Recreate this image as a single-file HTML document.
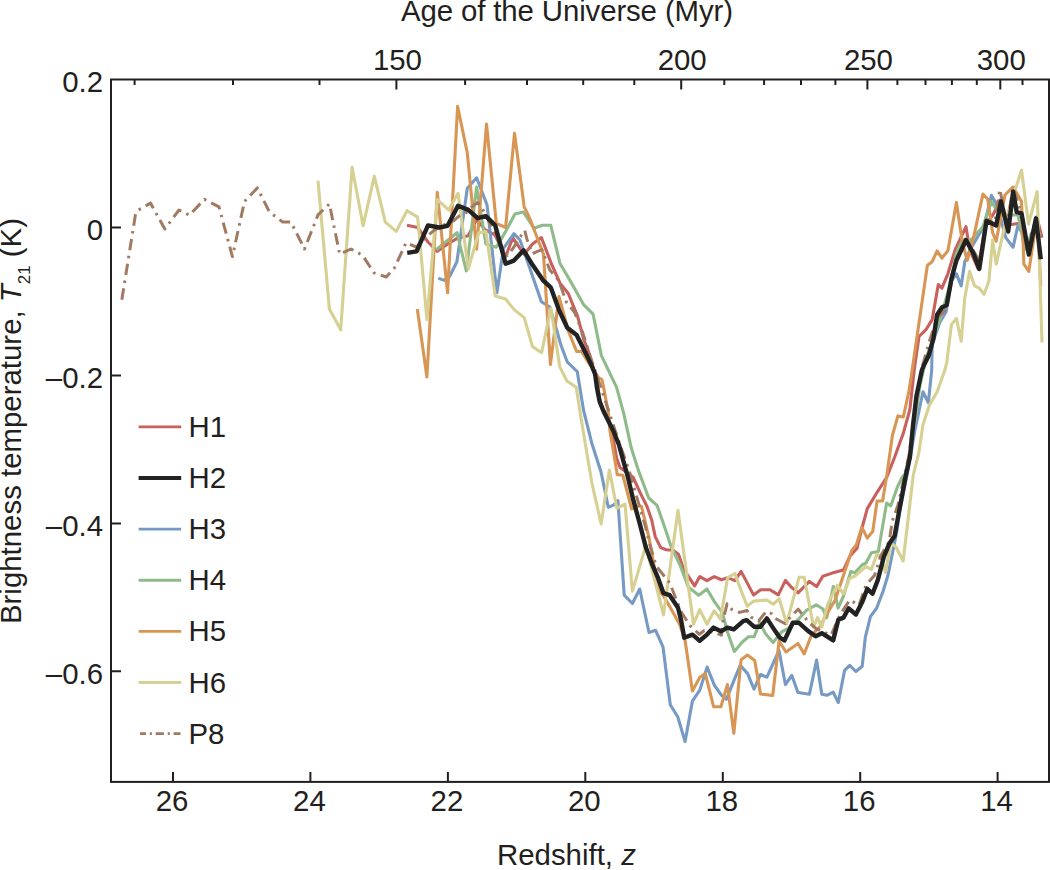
<!DOCTYPE html>
<html><head><meta charset="utf-8"><style>
html,body{margin:0;padding:0;background:#fff;width:1050px;height:870px;overflow:hidden}
svg{display:block}
text{font-family:"Liberation Sans",sans-serif;font-size:29.4px;fill:#231f20}
</style></head><body>
<svg width="1050" height="870" viewBox="0 0 1050 870">
<rect width="1050" height="870" fill="#fff"/>
<clipPath id="c"><rect x="111.0" y="79.5" width="938.0" height="702.4"/></clipPath>
<g clip-path="url(#c)" fill="none" stroke-linejoin="round" stroke-linecap="butt">
<polyline points="407.0,225.2 417.6,227.5 428.0,242.0 437.3,251.3 447.6,244.0 458.0,237.9 468.3,235.8 476.6,219.2 484.9,229.6 495.0,235.0 505.6,256.5 512.8,237.9 524.2,254.4 532.5,244.0 541.4,237.6 551.7,264.5 560.0,283.2 568.3,293.5 577.6,316.3 583.9,340.0 587.9,349.7 593.0,367.0 597.0,381.0 600.0,401.0 604.0,411.0 611.0,426.0 616.6,458.0 620.0,467.6 633.1,477.2 640.0,492.4 646.9,506.2 651.7,520.0 655.2,536.6 660.7,547.6 666.2,549.7 673.1,550.3 678.6,554.5 683.2,568.3 694.6,585.9 699.7,576.6 707.0,580.7 714.2,576.6 721.5,579.7 727.7,577.6 734.9,580.7 741.1,571.4 753.5,594.9 760.7,589.7 770.0,589.7 778.3,594.9 785.5,580.4 790.7,586.6 798.0,592.8 809.4,581.4 816.6,586.6 822.8,576.2 832.1,573.1 843.5,570.0 849.7,556.6 857.0,548.3 862.0,528.0 867.3,508.6 877.1,492.3 886.9,477.0 894.6,457.3 903.3,433.3 909.9,409.3 914.2,370.0 919.0,336.5 926.2,329.3 932.2,319.6 938.3,284.6 941.9,288.2 947.9,273.8 955.2,249.6 966.0,226.7 969.6,249.6 978.1,268.9 985.3,225.5 993.8,213.4 1000.0,200.0 1008.0,225.0 1020.3,223.1 1027.5,247.2 1037.2,218.3 1042.0,237.6" stroke="#c8605d" stroke-width="3.1"/>
<polyline points="438.3,278.3 444.5,280.4 449.7,276.2 456.9,261.7 460.0,240.0 467.3,188.2 476.6,177.8 487.0,204.7 491.0,240.0 496.9,292.8 503.5,248.3 513.9,233.7 520.0,240.0 530.0,268.7 541.4,301.8 549.7,307.0 556.9,330.8 561.0,345.3 567.3,362.0 577.3,371.7 583.5,410.0 591.8,443.2 601.1,472.2 608.3,507.3 613.8,504.8 617.9,500.7 624.2,595.2 632.4,603.5 639.7,589.0 649.0,632.5 655.6,630.3 663.0,646.9 670.3,704.8 677.7,716.8 685.1,741.6 692.4,701.1 699.8,690.1 707.1,667.1 714.5,685.5 721.8,695.6 726.4,699.3 733.8,680.9 740.2,665.3 747.6,673.6 754.0,689.2 760.5,674.5 766.9,677.2 779.0,650.5 785.4,684.5 791.8,675.5 798.0,692.5 809.4,694.2 816.6,660.1 821.8,694.2 827.0,695.3 833.2,692.2 838.3,702.5 844.6,670.4 849.7,665.3 855.9,671.5 862.2,666.3 865.3,637.3 870.4,616.6 876.6,608.3 882.9,591.8 888.0,575.2 896.8,531.6 900.0,509.7 908.0,470.0 915.0,430.0 923.0,391.8 928.4,402.8 931.7,370.0 932.2,343.7 940.0,322.0 946.0,312.0 951.5,281.0 956.4,273.8 961.2,285.8 964.8,261.7 970.0,250.0 977.0,238.0 984.0,226.0 991.4,195.3 997.0,205.0 1005.8,237.6 1013.1,247.2 1017.9,225.5 1027.0,242.0 1035.0,232.0 1040.8,236.4" stroke="#769ac3" stroke-width="3.1"/>
<polyline points="436.2,249.7 457.0,232.7 466.3,271.0 476.6,187.1 485.9,244.0 496.3,247.2 505.6,231.6 514.9,214.0 523.2,212.0 534.1,228.3 542.4,225.2 550.7,225.2 560.0,263.5 570.4,281.1 583.8,304.9 593.1,314.2 601.4,355.6 616.6,387.3 623.9,414.2 631.1,447.3 638.3,470.1 648.7,498.0 657.0,505.3 665.3,529.1 670.7,545.5 680.0,565.0 688.3,587.0 698.7,595.2 707.0,589.0 714.2,601.4 722.5,612.8 727.7,632.5 734.3,651.5 742.1,642.3 748.5,636.8 754.0,636.8 759.7,622.8 765.9,634.2 773.1,642.5 781.4,632.1 788.7,628.0 799.0,618.7 806.3,610.4 816.2,604.8 822.9,609.0 826.7,617.6 833.3,586.2 838.1,608.1 843.5,596.0 850.8,571.5 854.8,572.8 862.0,565.0 866.0,563.0 871.4,552.8 878.3,551.4 886.6,503.1 890.7,505.9 897.6,486.6 901.7,478.3 905.0,474.0 910.0,455.0 915.0,420.0 920.0,385.0 926.2,358.2 941.9,313.6 950.3,283.4 956.4,253.3 962.4,240.0 969.6,241.2 982.9,226.7 991.4,201.4 1000.0,215.0 1010.0,215.0 1018.0,215.0 1025.1,249.6 1035.0,225.0 1040.0,235.0" stroke="#8fbb8a" stroke-width="3.1"/>
<polyline points="417.3,309.0 426.9,377.0 437.3,192.3 447.6,292.8 457.6,106.4 467.3,153.0 476.6,249.2 486.5,124.0 496.3,223.4 505.6,227.5 514.5,133.3 524.2,206.8 530.0,219.0 543.5,254.2 550.4,364.5 559.0,296.6 568.3,330.8 576.6,351.5 581.4,351.3 590.0,365.0 598.8,377.9 602.0,379.7 604.3,390.7 606.6,403.6 608.4,412.8 609.8,429.4 611.7,441.3 613.8,453.8 617.2,474.5 622.8,475.2 631.7,509.0 637.2,506.2 641.4,506.2 645.5,522.8 649.0,537.9 653.0,560.0 658.3,589.7 663.9,596.6 668.0,603.5 679.5,623.9 685.1,640.5 692.4,691.0 699.8,677.2 705.3,673.6 713.6,706.7 720.9,706.7 727.4,684.6 733.8,733.3 741.1,659.8 747.4,655.0 754.7,660.5 760.5,694.0 772.7,695.5 779.1,641.0 786.0,652.0 798.0,643.5 804.2,653.9 811.4,635.2 819.7,627.0 828.0,612.0 835.2,600.0 841.4,581.4 845.6,569.0 851.8,550.4 856.4,544.7 861.8,527.2 867.3,538.1 872.7,531.6 877.1,501.0 882.6,501.0 886.9,474.8 892.4,435.5 897.9,415.9 903.3,417.0 908.8,391.8 911.0,378.0 927.4,265.3 932.2,261.7 937.1,250.8 941.9,258.1 947.9,250.8 956.4,202.6 962.4,242.4 967.2,260.5 973.3,238.8 982.9,194.1 987.7,199.0 992.6,232.7 996.2,241.2 1005.0,195.0 1013.1,186.9 1021.5,201.4 1023.9,264.1 1028.8,271.4 1037.2,215.8 1040.8,285.8" stroke="#d89655" stroke-width="3.1"/>
<polyline points="318.0,180.7 329.4,309.0 340.7,329.8 352.1,167.2 363.1,225.8 374.3,176.1 385.3,222.1 396.2,231.4 407.0,210.7 417.6,217.1 420.7,250.4 426.9,319.7 437.3,199.6 448.6,209.9 458.0,193.3 468.3,268.9 478.7,232.7 485.9,231.6 495.2,295.9 505.6,299.0 513.9,309.4 524.2,317.6 532.5,346.6 541.6,352.7 550.9,308.2 559.7,366.6 566.9,381.0 576.2,387.3 581.4,420.4 591.8,482.5 601.1,523.9 609.4,470.1 616.8,508.3 625.0,504.2 632.4,591.1 645.9,545.5 663.5,614.9 678.0,510.4 693.5,624.2 699.7,609.7 707.0,624.2 714.2,610.8 720.4,619.0 727.7,577.6 734.9,573.5 740.0,587.6 747.2,606.3 753.5,601.1 766.9,600.0 773.1,604.2 779.3,599.0 786.6,623.8 799.0,577.3 804.2,577.3 813.5,627.0 817.6,617.6 821.8,627.0 828.0,603.1 837.3,585.5 843.5,593.8 849.7,578.3 855.0,576.0 865.9,566.6 871.4,569.3 876.9,554.1 881.0,558.3 885.5,572.5 890.7,543.1 896.0,547.0 903.1,561.0 907.7,522.8 913.3,474.8 918.8,453.0 923.0,424.6 929.5,404.9 937.2,391.8 944.8,370.0 946.7,363.0 951.5,324.4 956.4,318.4 961.2,341.3 964.8,297.9 969.6,271.4 974.5,285.8 979.3,288.2 984.1,294.3 988.9,281.0 992.6,240.0 996.2,264.1 1007.0,215.8 1021.5,170.0 1028.5,224.0 1037.2,191.7 1042.0,342.5" stroke="#d6d092" stroke-width="3.1"/>
<polyline points="121.7,300.5 135.5,214.3 138.4,210.0 150.5,203.1 164.8,229.0 179.0,210.0 189.3,215.2 204.5,199.3 219.0,206.9 232.4,256.6 244.5,201.4 257.4,187.9 269.3,211.8 282.8,222.1 291.0,222.1 304.5,249.0 318.0,214.9 329.4,203.9 339.7,254.2 351.0,249.0 362.5,255.2 373.9,272.8 386.3,277.0 394.6,267.7 406.0,242.8 416.3,247.0 424.8,238.3 433.1,231.1 441.4,225.9 453.8,220.7 459.0,216.1 465.2,213.5 472.5,206.2 477.7,202.5 484.7,212.5 492.0,228.0 500.0,245.0 507.5,255.3 513.0,248.4 519.9,237.3 524.7,230.4 526.8,238.7 532.3,253.9 537.9,251.2 542.0,249.8 549.7,269.7 559.0,281.1 566.2,301.8 574.5,312.2 582.8,332.9 590.0,355.6 600.0,385.0 610.0,415.0 620.0,445.0 629.0,470.0 637.3,499.0 645.0,525.0 650.0,545.0 656.3,566.3 669.7,582.8 681.1,611.8 690.0,625.7 699.5,634.3 704.3,630.5 714.8,632.4 721.4,635.2 722.9,621.0 727.1,603.8 731.9,609.5 739.5,612.4 747.1,610.5 751.0,617.1 758.6,621.0 766.2,611.4 771.0,613.3 774.8,618.1 785.2,623.8 790.8,616.6 798.2,609.2 808.3,621.8 816.6,629.0 831.1,635.2 840.0,615.0 849.7,600.0 859.0,605.2 866.3,584.5 874.6,575.2 880.8,555.5 889.1,542.1 892.4,520.7 898.0,505.0 904.0,478.0 909.0,455.0 913.0,425.0 917.0,395.0 922.0,368.0 928.6,343.7 937.0,318.0 945.5,310.0 951.0,282.0 957.0,258.0 966.0,238.0 973.0,250.0 980.0,262.0 986.0,222.0 995.0,222.0 999.8,189.3 1007.0,225.0 1013.1,186.9 1020.0,210.0 1028.0,245.0 1037.2,214.6" stroke="#a27a62" stroke-width="3.0" stroke-dasharray="11.5,5.5,2.5,5.5" stroke-dashoffset="24.2"/>
<polyline points="407.2,252.8 416.6,251.3 428.0,225.4 439.3,227.5 447.6,225.8 458.0,205.8 468.3,209.9 477.6,218.2 485.9,216.1 495.2,225.4 505.6,263.7 513.9,260.6 523.6,250.3 532.5,264.8 542.9,280.1 550.7,287.3 559.0,310.1 567.3,327.7 576.6,334.9 584.9,351.5 591.4,365.0 595.1,374.2 597.0,388.0 599.7,401.8 603.4,411.0 608.9,422.0 613.5,431.2 619.0,445.0 622.5,458.0 627.6,475.9 633.1,499.3 639.7,523.5 645.9,547.6 652.1,564.2 658.3,578.7 663.5,593.2 669.7,595.2 678.0,607.7 681.1,620.1 684.2,637.7 692.5,634.6 699.7,640.8 707.0,634.6 713.6,627.6 720.9,631.3 727.4,627.6 733.8,629.4 743.2,621.1 746.7,620.2 754.0,626.7 760.5,626.7 766.9,618.4 775.2,631.1 779.8,637.7 784.5,640.4 792.8,622.8 799.0,622.8 808.3,631.1 815.6,636.3 821.8,633.2 833.2,640.4 838.3,619.7 843.5,617.6 848.7,608.3 855.9,614.5 862.2,602.1 867.3,588.7 872.5,593.8 877.7,580.4 883.9,556.6 889.1,544.1 894.6,535.9 899.0,511.9 905.5,477.0 909.9,457.3 913.1,424.6 916.4,396.2 921.9,370.0 923.8,365.5 928.6,355.8 933.4,338.9 937.1,314.8 941.9,307.5 946.7,305.1 951.5,278.6 956.4,260.5 966.0,240.0 973.3,253.3 979.3,268.9 986.5,220.7 996.2,225.5 1001.0,201.4 1008.2,231.5 1013.1,191.7 1016.7,212.2 1021.5,213.4 1028.8,254.5 1036.0,218.3 1040.8,259.3" stroke="#222222" stroke-width="4.4"/>
</g>
<rect x="111.0" y="79.5" width="938.0" height="702.4" fill="none" stroke="#231f20" stroke-width="2"/>
<path d="M173.0,781.9V771.9 M310.4,781.9V771.9 M447.9,781.9V771.9 M585.3,781.9V771.9 M722.8,781.9V771.9 M860.2,781.9V771.9 M997.6,781.9V771.9 M111.0,227.5H121.0 M111.0,375.4H121.0 M111.0,523.4H121.0 M111.0,671.3H121.0 M134.6,79.5V85.0 M233.0,79.5V85.0 M319.5,79.5V85.0 M396.4,79.5V89.5 M465.1,79.5V85.0 M527.0,79.5V85.0 M583.2,79.5V85.0 M634.3,79.5V85.0 M681.2,79.5V89.5 M724.3,79.5V85.0 M764.1,79.5V85.0 M801.0,79.5V85.0 M835.4,79.5V85.0 M867.4,79.5V89.5 M897.4,79.5V85.0 M925.5,79.5V85.0 M951.9,79.5V85.0 M976.8,79.5V85.0 M1000.3,79.5V89.5 M1022.5,79.5V85.0" stroke="#231f20" stroke-width="2" fill="none"/>
<line x1="138.6" y1="426.9" x2="181.2" y2="426.9" stroke="#c8605d" stroke-width="2.9"/>
<line x1="138.6" y1="478.0" x2="181.2" y2="478.0" stroke="#222222" stroke-width="4.0"/>
<line x1="138.6" y1="529.1" x2="181.2" y2="529.1" stroke="#769ac3" stroke-width="2.9"/>
<line x1="138.6" y1="580.3" x2="181.2" y2="580.3" stroke="#8fbb8a" stroke-width="2.9"/>
<line x1="138.6" y1="631.4" x2="181.2" y2="631.4" stroke="#d89655" stroke-width="2.9"/>
<line x1="138.6" y1="682.5" x2="181.2" y2="682.5" stroke="#d6d092" stroke-width="2.9"/>
<line x1="140" y1="733.6" x2="180.5" y2="733.6" stroke="#a27a62" stroke-width="2.8" stroke-dasharray="8.2,3.8,2.1,3.8" stroke-dashoffset="2.2"/>
<text x="172.0" y="810.5" text-anchor="middle">26</text>
<text x="309.4" y="810.5" text-anchor="middle">24</text>
<text x="446.9" y="810.5" text-anchor="middle">22</text>
<text x="584.3" y="810.5" text-anchor="middle">20</text>
<text x="721.8" y="810.5" text-anchor="middle">18</text>
<text x="859.2" y="810.5" text-anchor="middle">16</text>
<text x="996.6" y="810.5" text-anchor="middle">14</text>
<text x="103.0" y="92.3" text-anchor="end">0.2</text>
<text x="103.0" y="240.2" text-anchor="end">0</text>
<text x="103.0" y="388.1" text-anchor="end">–0.2</text>
<text x="103.0" y="536.1" text-anchor="end">–0.4</text>
<text x="103.0" y="684.0" text-anchor="end">–0.6</text>
<text x="397.4" y="70.0" text-anchor="middle">150</text>
<text x="682.2" y="70.0" text-anchor="middle">200</text>
<text x="868.4" y="70.0" text-anchor="middle">250</text>
<text x="1001.3" y="70.0" text-anchor="middle">300</text>
<text x="401.0" y="20.7" text-anchor="start" letter-spacing="-0.12">Age of the Universe (Myr)</text>
<text x="497.0" y="864.8" text-anchor="start">Redshift, <tspan font-style="italic">z</tspan></text>
<text transform="translate(21,421) rotate(-90)" text-anchor="middle">Brightness temperature, <tspan font-style="italic">T</tspan><tspan font-size="17" dy="8.5">21</tspan><tspan dy="-8.5"> (K)</tspan></text>
<text x="188.5" y="436.9" text-anchor="start">H1</text>
<text x="188.5" y="488.0" text-anchor="start">H2</text>
<text x="188.5" y="539.1" text-anchor="start">H3</text>
<text x="188.5" y="590.3" text-anchor="start">H4</text>
<text x="188.5" y="641.4" text-anchor="start">H5</text>
<text x="188.5" y="692.5" text-anchor="start">H6</text>
<text x="188.5" y="743.6" text-anchor="start">P8</text>
</svg>
</body></html>
